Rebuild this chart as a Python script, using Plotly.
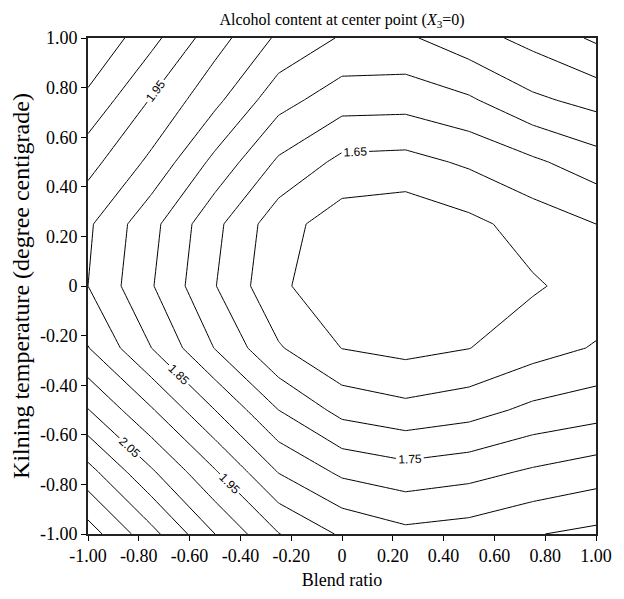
import plotly.graph_objects as go

# grid coordinates (blend ratio X1, kilning temperature X2)
blend = [-1.0, -0.75, -0.5, -0.25, 0.0, 0.25, 0.5, 0.75, 1.0]
kilning = [-1.0, -0.75, -0.5, -0.25, 0.0, 0.25, 0.5, 0.75, 1.0]

# alcohol content (rows: kilning -1 -> 1, cols: blend -1 -> 1)
alc_m100 = [2.274, 2.166, 2.050, 1.952, 1.893, 1.864, 1.874, 1.897, 1.912]
alc_m075 = [2.168, 2.057, 1.955, 1.848, 1.790, 1.770, 1.783, 1.807, 1.827]
alc_m050 = [2.052, 1.955, 1.850, 1.750, 1.684, 1.665, 1.680, 1.712, 1.729]
alc_m025 = [1.952, 1.850, 1.748, 1.655, 1.599, 1.585, 1.599, 1.629, 1.654]
alc_p000 = [1.900, 1.804, 1.702, 1.609, 1.566, 1.555, 1.565, 1.594, 1.620]
alc_p025 = [1.908, 1.815, 1.713, 1.620, 1.574, 1.564, 1.587, 1.621, 1.650]
alc_p050 = [1.968, 1.888, 1.786, 1.692, 1.637, 1.633, 1.658, 1.691, 1.727]
alc_p075 = [2.038, 1.946, 1.863, 1.769, 1.722, 1.720, 1.743, 1.790, 1.817]
alc_p100 = [2.098, 2.015, 1.921, 1.841, 1.795, 1.792, 1.830, 1.866, 1.908]
alcohol = [alc_m100, alc_m075, alc_m050, alc_m025, alc_p000,
           alc_p025, alc_p050, alc_p075, alc_p100]

tick_vals = [-1.0, -0.8, -0.6, -0.4, -0.2, 0.0, 0.2, 0.4, 0.6, 0.8, 1.0]
tick_text = ["-1.00", "-0.80", "-0.60", "-0.40", "-0.20", "0",
             "0.20", "0.40", "0.60", "0.80", "1.00"]

serif = "Liberation Serif, Times New Roman, serif"

def contour(start, end, labels):
    return go.Contour(
        x=blend, y=kilning, z=alcohol,
        autocontour=False,
        contours=dict(coloring="none", start=start, end=end, size=0.1,
                      showlabels=labels, labelformat=".2f",
                      labelfont=dict(family="Liberation Sans, Arial, sans-serif",
                                     size=12, color="black")),
        line=dict(color="black", width=1, smoothing=0),
        showscale=False, hoverinfo="skip",
    )

fig = go.Figure()
fig.add_trace(contour(1.60, 2.20, False))
fig.add_trace(contour(2.15, 2.25, False))
fig.add_trace(contour(1.65, 2.05, True))

axis_common = dict(range=[-1, 1], tickvals=tick_vals, ticktext=tick_text,
                   ticks="outside", ticklen=5, tickcolor="black", tickwidth=1,
                   showline=True, linecolor="#222", linewidth=1.6, mirror=True,
                   showgrid=False, zeroline=False,
                   tickfont=dict(family=serif, size=18, color="black"))

fig.update_layout(
    width=624, height=599,
    margin=dict(l=88, r=19, t=38, b=58),
    paper_bgcolor="white", plot_bgcolor="white",
    showlegend=False,
    title=dict(text="Alcohol content at center point (<i>X</i><sub>3</sub>=0)",
               x=0.5, xref="paper", xanchor="center",
               y=1 - 19 / 599, yref="container", yanchor="middle",
               font=dict(family=serif, size=16, color="black")),
    xaxis=dict(axis_common, title=dict(text="Blend ratio", standoff=8,
               font=dict(family=serif, size=18, color="black"))),
    yaxis=dict(axis_common, title=dict(text="Kilning temperature (degree centigrade)",
               standoff=4, font=dict(family=serif, size=24, color="black"))),
)

fig.write_html("out.html")
